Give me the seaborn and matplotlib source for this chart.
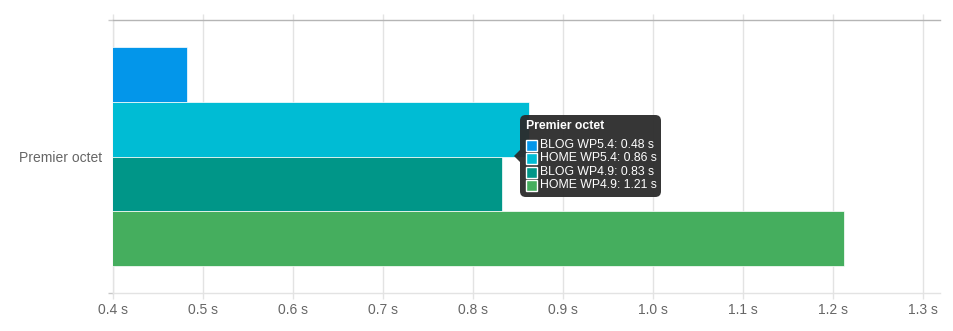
import matplotlib
matplotlib.use("Agg")
import matplotlib.pyplot as plt
import seaborn as sns
import pandas as pd
from matplotlib.patches import FancyBboxPatch, Polygon, Rectangle
from matplotlib.ticker import MultipleLocator, FixedLocator, FuncFormatter

category = ["Premier octet"]
series = ["BLOG WP5.4", "HOME WP5.4", "BLOG WP4.9", "HOME WP4.9"]
values = [0.482, 0.862, 0.832, 1.212]
colors = ["#0396EA", "#00BCD4", "#009688", "#45AE5E"]

df = pd.DataFrame({"cat": category * len(series), "series": series, "value": values})

sns.set_theme(style="white")
plt.rcParams["font.family"] = ["Liberation Sans", "DejaVu Sans"]

W, H = 954, 331
fig = plt.figure(figsize=(W / 100, H / 100), dpi=100)
ax = fig.add_axes([113 / W, (H - 293) / H, (940 - 113) / W, (293 - 20) / H])

sns.barplot(data=df, x="value", y="cat", hue="series", palette=colors, orient="h",
            width=0.8, ax=ax, legend=False, edgecolor="white", linewidth=0.5, zorder=3,
            saturation=1)

ax.set_xlim(0.4, 1.319)
ax.set_ylim(0.5, -0.5)
ax.set_xlabel("")
ax.set_ylabel("")

grid_c = "#e3e3e3"
ax.xaxis.set_major_locator(MultipleLocator(0.1))
ax.xaxis.set_major_formatter(FuncFormatter(lambda v, p: f"{v:.1f} s"))
ax.grid(axis="x", color=grid_c, linewidth=1, zorder=0)
ax.tick_params(axis="x", which="major", bottom=True, top=True, length=4.3, width=1,
               color=grid_c, labelsize=10, labelcolor="#666666", pad=3)
ax.tick_params(axis="y", which="major", left=False, length=0, labelsize=10,
               labelcolor="#666666", pad=7.5)
ax.yaxis.set_minor_locator(FixedLocator([-0.5, 0.5]))
ax.tick_params(axis="y", which="minor", left=True, length=3.6, width=1, color="#c8c8c8")

ax.spines["right"].set_visible(False)
ax.spines["left"].set_color(grid_c)
ax.spines["bottom"].set_color(grid_c)
ax.spines["top"].set_color("#b5b5b5")
for s in ["left", "bottom", "top"]:
    ax.spines[s].set_linewidth(1)


def fx(px):
    return px / W


def fy(py):
    return (H - py) / H


# tooltip
tip = FancyBboxPatch((fx(520), fy(197)), fx(661) - fx(520), fy(115) - fy(197),
                     boxstyle="round,pad=0,rounding_size=0.006", transform=fig.transFigure,
                     facecolor="#2b2b2b", edgecolor="none", alpha=0.95, zorder=10,
                     mutation_aspect=W / H)
fig.add_artist(tip)
caret = Polygon([(fx(520), fy(150)), (fx(514), fy(156)), (fx(520), fy(162))],
                closed=True, transform=fig.transFigure, facecolor="#2b2b2b",
                edgecolor="none", alpha=0.95, zorder=10)
fig.add_artist(caret)
fig.text(fx(526), fy(126), category[0], color="white", fontsize=8.8, fontweight="bold",
         va="center", ha="left", zorder=11)
rows_y = [145, 158, 172, 185]
for name, val, col, ry in zip(series, values, colors, rows_y):
    sq = Rectangle((fx(526), fy(ry + 6)), fx(11), 11 / H, transform=fig.transFigure,
                   facecolor=col, edgecolor="white", linewidth=1, zorder=11)
    fig.add_artist(sq)
    fig.text(fx(540), fy(ry), f"{name}: {val:.2f} s", color="white", fontsize=8.8,
             va="center", ha="left", zorder=11)

fig.savefig("out.png", dpi=100, facecolor="white")
